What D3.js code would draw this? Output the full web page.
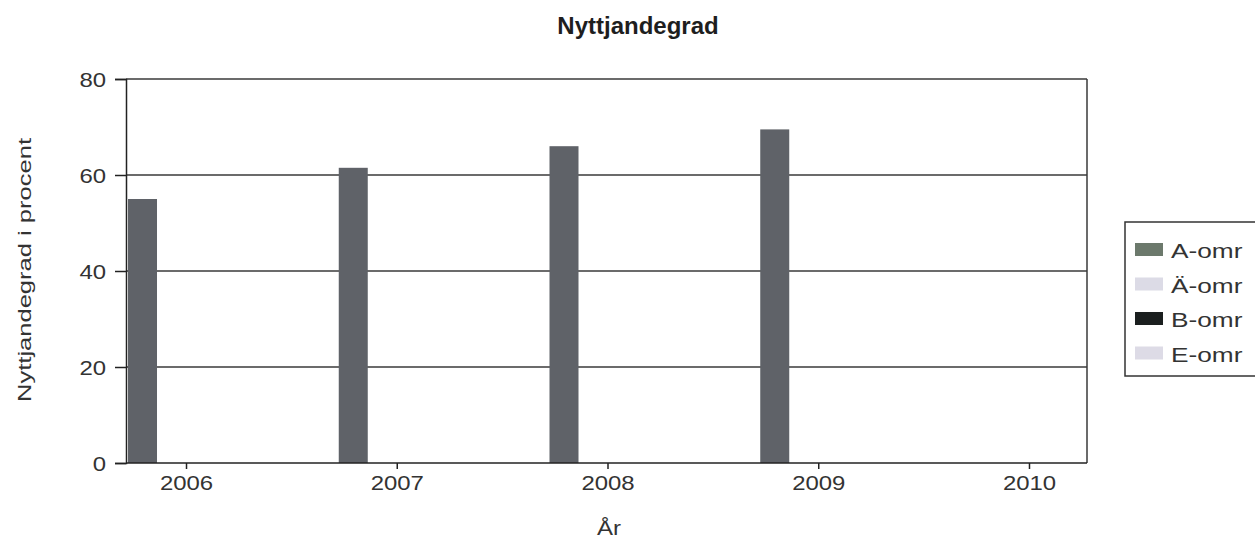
<!DOCTYPE html>
<html>
<head>
<meta charset="utf-8">
<script src="https://cdn.jsdelivr.net/npm/d3@7.9.0/dist/d3.min.js"></script>
<style>
  html, body { margin: 0; padding: 0; background: #fff; }
  svg { display: block; font-family: "Liberation Sans", Arial, sans-serif; }
</style>
</head>
<body>
<svg id="chart" width="1255" height="542"></svg>
<script>
// data
const years = ['2006', '2007', '2008', '2009', '2010'];
const seriesNames = ['A-omr', 'Ä-omr', 'B-omr', 'E-omr'];
const aOmr = [55, 61.5, 66, 69.5, null];
const aeOmr = [null, null, null, null, null];
const bOmr = [null, null, null, null, null];
const eOmr = [null, null, null, null, null];
const yTicks = [0, 20, 40, 60, 80];

const seriesValues = [aOmr, aeOmr, bOmr, eOmr];
const seriesColors = ['#5f6268', '#dcdbe6', '#1b1f1f', '#dddbe6'];
const legendColors = ['#6c796c', '#dcdbe6', '#1b1f1f', '#dddbe6'];

const svg = d3.select('#chart');
const plot = { left: 126, right: 1087, top: 79, bottom: 463 };

const x0 = d3.scalePoint().domain(years).range([plot.left + 1, plot.right + 1]).padding(0.28);
const x1 = d3.scaleBand().domain(seriesNames).range([-58, 58]);
const y = d3.scaleLinear().domain([0, 80]).range([plot.bottom, plot.top]);

const gridColor = '#3a3a3a';

// gridlines
svg.append('g')
  .selectAll('line')
  .data(yTicks.filter((t) => t > 0))
  .join('line')
  .attr('x1', plot.left)
  .attr('x2', plot.right)
  .attr('y1', (d) => y(d))
  .attr('y2', (d) => y(d))
  .attr('stroke', gridColor)
  .attr('stroke-width', 1.5);

// right border
svg.append('line')
  .attr('x1', plot.right).attr('x2', plot.right)
  .attr('y1', plot.top).attr('y2', plot.bottom)
  .attr('stroke', gridColor).attr('stroke-width', 1.5);

// bars
const rows = [];
years.forEach((yr, i) => {
  seriesNames.forEach((s, j) => {
    const v = seriesValues[j][i];
    if (v != null) rows.push({ year: yr, series: s, value: v, color: seriesColors[j] });
  });
});

svg.append('g')
  .selectAll('rect')
  .data(rows)
  .join('rect')
  .attr('x', (d) => x0(d.year) + x1(d.series))
  .attr('y', (d) => y(d.value))
  .attr('width', x1.bandwidth())
  .attr('height', (d) => y(0) - y(d.value))
  .attr('fill', (d) => d.color);

// y axis
const yAxis = svg.append('g')
  .attr('transform', `translate(${plot.left},0)`)
  .call(d3.axisLeft(y).tickValues(yTicks).tickSize(11).tickPadding(0));
yAxis.select('.domain').attr('stroke', '#222').attr('stroke-width', 1.5);
yAxis.selectAll('.tick line').attr('stroke', '#222').attr('stroke-width', 1.5);
yAxis.selectAll('.tick text')
  .attr('x', 0)
  .attr('dy', '0.36em')
  .attr('transform', 'translate(-20,0) scale(1.14,1)')
  .attr('font-size', 21)
  .attr('fill', '#333')
  .style('font-family', '"Liberation Sans", Arial, sans-serif');

// x axis
const xAxis = svg.append('g')
  .attr('transform', `translate(0,${plot.bottom})`)
  .call(d3.axisBottom(x0).tickSize(6).tickPadding(0));
xAxis.select('.domain').attr('stroke', '#222').attr('stroke-width', 1.5)
  .attr('d', `M${plot.left},0H${plot.right}`);
xAxis.selectAll('.tick line').attr('stroke', '#222').attr('stroke-width', 1.5);
xAxis.selectAll('.tick text')
  .attr('y', 0)
  .attr('dy', 0)
  .attr('transform', 'translate(0,27) scale(1.14,1)')
  .attr('font-size', 21)
  .attr('fill', '#333')
  .style('font-family', '"Liberation Sans", Arial, sans-serif');

// title
svg.append('text')
  .attr('x', 638)
  .attr('y', 34)
  .attr('text-anchor', 'middle')
  .attr('font-size', 24)
  .attr('font-weight', 'bold')
  .attr('fill', '#1e1e1e')
  .text('Nyttjandegrad');

// axis titles
svg.append('text')
  .attr('transform', 'translate(609,535) scale(1.2,1)')
  .attr('text-anchor', 'middle')
  .attr('font-size', 20)
  .attr('fill', '#333')
  .text('År');

svg.append('text')
  .attr('transform', 'translate(31,270) rotate(-90)')
  .attr('text-anchor', 'middle')
  .attr('font-size', 19)
  .attr('fill', '#333')
  .attr('textLength', 264)
  .attr('lengthAdjust', 'spacingAndGlyphs')
  .text('Nyttjandegrad i procent');

// legend
const legend = svg.append('g').attr('transform', 'translate(1125,222)');
legend.append('rect')
  .attr('x', 0).attr('y', 0)
  .attr('width', 140).attr('height', 154)
  .attr('fill', '#fff')
  .attr('stroke', '#333')
  .attr('stroke-width', 1.5);

const items = legend.selectAll('g.item')
  .data(seriesNames)
  .join('g')
  .attr('class', 'item')
  .attr('transform', (d, i) => `translate(0,${28 + i * 34.5})`);

items.append('rect')
  .attr('x', 10).attr('y', -7)
  .attr('width', 28).attr('height', 13)
  .attr('fill', (d, i) => legendColors[i]);

items.append('text')
  .attr('transform', 'translate(46,8) scale(1.25,1)')
  .attr('font-size', 21)
  .attr('fill', '#333')
  .text((d) => d);
</script>
</body>
</html>
